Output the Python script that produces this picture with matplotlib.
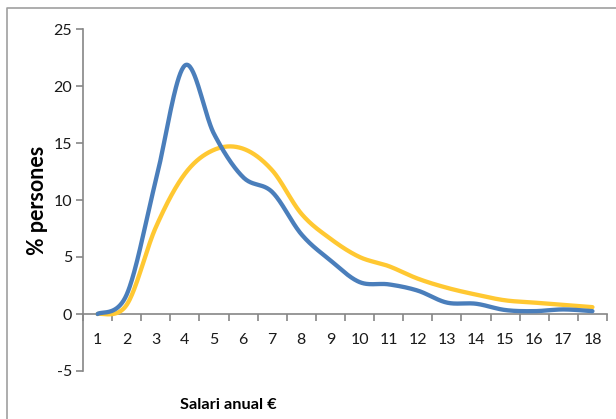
import numpy as np
import matplotlib
matplotlib.use("Agg")
import matplotlib.pyplot as plt
from matplotlib.lines import Line2D

plt.rcParams["axes.unicode_minus"] = False

categories = list(range(1, 19))
blue_values = [0.0, 1.7, 11.7, 21.8, 15.8, 12.0, 10.7, 7.0, 4.7, 2.8, 2.6, 2.05, 1.0, 0.9, 0.35, 0.25, 0.4, 0.25]
yellow_values = [0.0, 0.8, 7.6, 12.3, 14.4, 14.5, 12.6, 8.8, 6.6, 5.0, 4.2, 3.1, 2.3, 1.7, 1.2, 1.0, 0.8, 0.6]
y_ticks = [-5, 0, 5, 10, 15, 20, 25]

def smooth(xs, ys, n=40):
    xs = np.asarray(xs, float); ys = np.asarray(ys, float)
    px = np.concatenate([[xs[0]], xs, [xs[-1]]])
    py = np.concatenate([[ys[0]], ys, [ys[-1]]])
    ox, oy = [], []
    t = np.linspace(0, 1, n)
    for i in range(1, len(px) - 2):
        p0 = np.array([px[i], py[i]]); p3 = np.array([px[i+1], py[i+1]])
        c1 = p0 + (np.array([px[i+1], py[i+1]]) - np.array([px[i-1], py[i-1]])) / 6
        c2 = p3 - (np.array([px[i+2], py[i+2]]) - np.array([px[i], py[i]])) / 6
        b = ((1-t)**3)[:, None]*p0 + (3*(1-t)**2*t)[:, None]*c1 + (3*(1-t)*t**2)[:, None]*c2 + (t**3)[:, None]*p3
        ox.extend(b[:, 0]); oy.extend(b[:, 1])
    return np.array(ox), np.array(oy)

W, H = 616, 419
fig = plt.figure(figsize=(W/100, H/100), dpi=100)
ax = fig.add_axes([83/W, 1-371/H, (607-83)/W, (371-29)/H])

bx, by = smooth(categories, blue_values)
yx, yy = smooth(categories, yellow_values)
ax.plot(yx, yy, color="#FFC832", lw=3.1, solid_capstyle="round", zorder=3)
ax.plot(bx, by, color="#4A7EBB", lw=3.1, solid_capstyle="round", zorder=4)

ax.set_xlim(0.5, 18.5)
ax.set_ylim(-5, 25)
ax.spines["top"].set_visible(False)
ax.spines["right"].set_visible(False)
ax.spines["bottom"].set_position(("data", 0))
for s in ("left", "bottom"):
    ax.spines[s].set_color("#868686")
    ax.spines[s].set_linewidth(1.2)

ax.set_xticks(np.arange(0.5, 19, 1))
ax.set_xticklabels([])
ax.set_xticks(categories, minor=True)
ax.set_xticklabels([str(c) for c in categories], minor=True)
ax.tick_params(axis="x", which="major", direction="out", length=5, color="#868686", width=1.2)
ax.tick_params(axis="x", which="minor", length=0, pad=14, labelsize=11.5)
ax.set_yticks(y_ticks)
ax.tick_params(axis="y", direction="out", length=5, color="#868686", width=1.2, pad=3, labelsize=11.5)
for lab in ax.get_xticklabels(minor=True) + ax.get_yticklabels():
    lab.set_fontfamily("Lato")
    lab.set_color("#1a1a1a")

fig.text(38/W, 1-200/H, "% persones", rotation=90, ha="center", va="center",
         fontsize=15.5, fontweight="bold", fontfamily="Lato")
fig.text(228/W, 1-405/H, "Salari anual €", ha="center", va="center",
         fontsize=11.8, fontweight="bold", fontfamily="Lato")

fig.add_artist(Line2D([7/W, 7/W, 1], [0, 1-8/H, 1-8/H], transform=fig.transFigure,
                      color="#A0A0A0", lw=1.2))

fig.savefig("out.png", dpi=100)
